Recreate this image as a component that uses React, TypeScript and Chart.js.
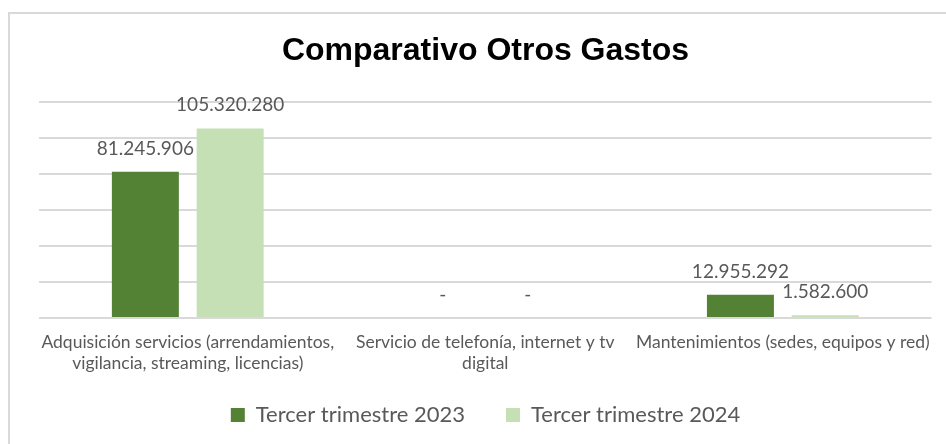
import React, { useEffect, useRef } from "react";
import { Chart, registerables } from "chart.js";

Chart.register(...registerables);

const categories: string[][] = [
  ["Adquisición servicios (arrendamientos,", "vigilancia, streaming, licencias)"],
  ["Servicio de telefonía, internet y tv", "digital"],
  ["Mantenimientos (sedes, equipos y red)"],
];
const seriesNames = ["Tercer trimestre 2023", "Tercer trimestre 2024"];
const values2023 = [81245906, 0, 12955292];
const values2024 = [105320280, 0, 1582600];
const colors = ["#548235", "#C5E0B4"];
const yMax = 120000000;
const yStep = 20000000;

const fmt = (v: number) =>
  v === 0 ? "-" : String(Math.round(v)).replace(/\B(?=(\d{3})+(?!\d))/g, ".");

const labelPlugin = {
  id: "barValueLabels",
  afterDatasetsDraw(chart: any) {
    const ctx = chart.ctx;
    ctx.save();
    ctx.font = "19px Lato";
    ctx.fillStyle = "#595959";
    ctx.textAlign = "center";
    ctx.textBaseline = "alphabetic";
    chart.data.datasets.forEach((ds: any, i: number) => {
      const meta = chart.getDatasetMeta(i);
      meta.data.forEach((bar: any, j: number) => {
        ctx.fillText(fmt(ds.data[j]), bar.x, bar.y - 17);
      });
    });
    ctx.restore();
  },
};

export default function App() {
  const ref = useRef<HTMLCanvasElement | null>(null);
  useEffect(() => {
    let chart: Chart | null = null;
    let cancelled = false;
    const make = () => {
      if (cancelled || !ref.current) return;
      chart = new Chart(ref.current, {
        type: "bar",
        data: {
          labels: categories as any,
          datasets: [
            { label: seriesNames[0], data: values2023, backgroundColor: colors[0] },
            { label: seriesNames[1], data: values2024, backgroundColor: colors[1] },
          ],
        },
        options: {
          responsive: false,
          animation: false,
          layout: { padding: { top: 0, left: 39, right: 14, bottom: 8 } },
          datasets: { bar: { categoryPercentage: 0.57, barPercentage: 0.79 } },
          plugins: {
            title: {
              display: true,
              text: "Comparativo Otros Gastos",
              color: "#000000",
              font: { family: "'Liberation Sans', Arial, sans-serif", size: 32, weight: "bold", lineHeight: 1.2 },
              padding: { top: 32, bottom: 31.6 },
            },
            legend: {
              position: "bottom",
              labels: {
                color: "#595959",
                font: { family: "Lato", size: 22 },
                boxWidth: 14,
                boxHeight: 14,
                padding: 41,
              },
            },
            tooltip: { enabled: false },
          },
          scales: {
            x: {
              grid: { display: false, drawTicks: false },
              border: { display: false },
              ticks: {
                color: "#595959",
                font: { family: "Lato", size: 17.5, lineHeight: 1.2 },
                padding: 14,
                maxRotation: 0,
                autoSkip: false,
              },
              afterFit: (scale: any) => {
                scale.height = 45;
                scale._computeLabelArea = () => undefined;
              },
            },
            y: {
              min: 0,
              max: yMax,
              ticks: { display: false, stepSize: yStep },
              grid: { color: "#d9d9d9", lineWidth: 2, drawTicks: false },
              border: { display: false },
            },
          },
        },
        plugins: [labelPlugin],
      });
    };
    Promise.all([
      document.fonts.load("19px Lato"),
      document.fonts.load("bold 32px 'Liberation Sans'"),
    ]).then(make, make);
    return () => {
      cancelled = true;
      if (chart) chart.destroy();
    };
  }, []);

  return (
    <div style={{ position: "fixed", left: 0, top: 0, width: 946, height: 444, overflow: "hidden", background: "#fff" }}>
      <div
        style={{
          position: "absolute",
          left: 8,
          top: 12,
          width: 1000,
          height: 600,
          border: "2px solid #d9d9d9",
          boxSizing: "border-box",
        }}
      />
      <canvas ref={ref} width={946} height={444} style={{ position: "absolute", left: 0, top: 0 }} />
    </div>
  );
}
